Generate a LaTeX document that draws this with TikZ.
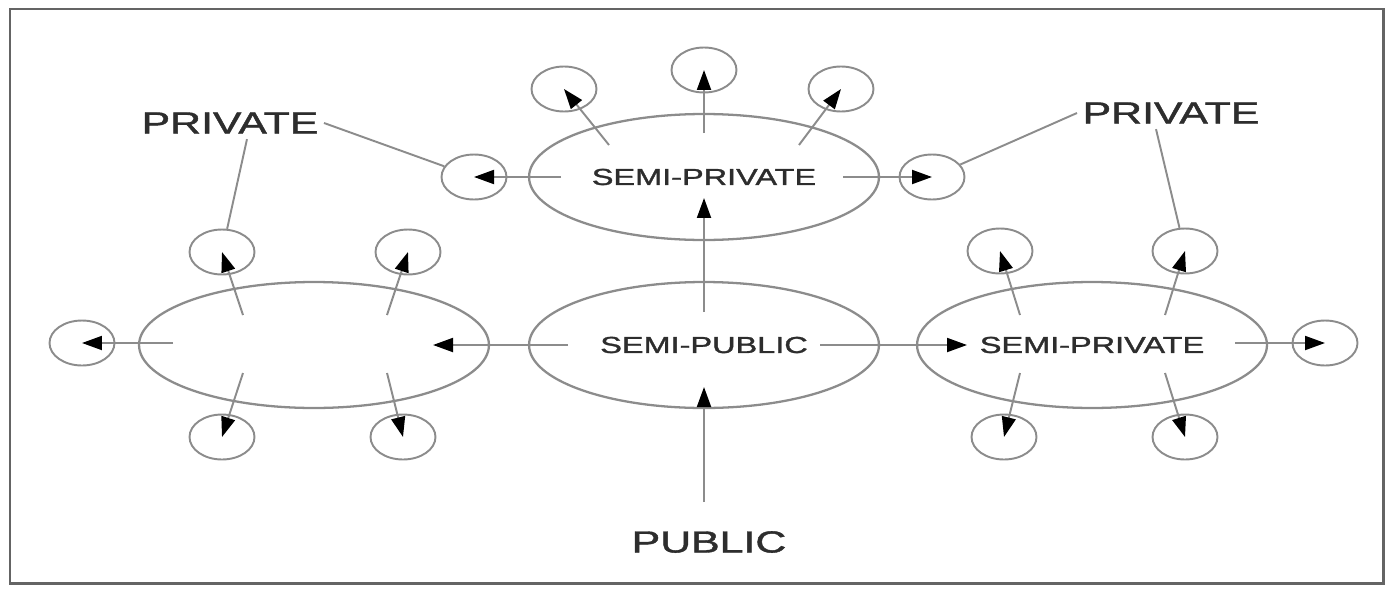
\documentclass[tikz,border=0pt]{standalone}
\usepackage{fontspec}
\setmainfont{Liberation Sans}
\newfontfamily\labelfont{Liberation Sans}[FakeBold=1.2]
\usetikzlibrary{shapes.geometric,arrows.meta}
\definecolor{linegray}{RGB}{140,140,140}
\definecolor{framegray}{RGB}{100,100,100}
\definecolor{textgray}{RGB}{45,45,45}
\newcommand{\widetxt}[1]{\scalebox{1.4}[1]{#1}}

\begin{document}
\begin{tikzpicture}[
    x=0.02cm, y=-0.02cm,
    zone/.style={ellipse, draw=linegray, line width=1.3pt, minimum width=7.0cm, minimum height=2.52cm, inner sep=0pt, text=textgray, font=\labelfont\fontsize{13.2}{15}\selectfont},
    room/.style={ellipse, draw=linegray, line width=1.1pt, minimum width=1.3cm, minimum height=0.9cm, inner sep=0pt},
    tag/.style={text=textgray, inner sep=3pt, font=\labelfont\fontsize{17.4}{20}\selectfont},
    arrow/.style={-{Triangle[length=0.4cm, width=0.28cm, color=black]}, draw=linegray, line width=1.1pt},
    lead/.style={draw=linegray, line width=1.1pt}
]
    \useasboundingbox (0,0) rectangle (1398,595);
    \draw[framegray, line width=1.7pt] (10,9) rectangle (1383,583);

    % Zones
    \node[zone] (sprivT) at (704,177) {\widetxt{SEMI-PRIVATE}};
    \node[zone] (spub) at (704,345) {\widetxt{SEMI-PUBLIC}};
    \node[zone] (lside) at (314,345) {};
    \node[zone] (sprivR) at (1092,345) {\widetxt{SEMI-PRIVATE}};

    % Rooms around the top zone
    \node[room] (t-nw) at (564,89) {};
    \node[room] (t-n) at (704,70) {};
    \node[room] (t-ne) at (841,89) {};
    \node[room] (t-w) at (474,177) {};
    \node[room] (t-e) at (932,177) {};

    % Rooms around the left zone
    \node[room] (l-nw) at (222,252) {};
    \node[room] (l-ne) at (408,252) {};
    \node[room] (l-w) at (82,343) {};
    \node[room] (l-sw) at (222,437) {};
    \node[room] (l-se) at (403,437) {};

    % Rooms around the right zone
    \node[room] (r-nw) at (1000,251) {};
    \node[room] (r-ne) at (1185,251) {};
    \node[room] (r-e) at (1325,343) {};
    \node[room] (r-sw) at (1004,437) {};
    \node[room] (r-se) at (1185,437) {};

    % Labels
    \node[tag] (privL) at (230,123) {\widetxt{PRIVATE}};
    \node[tag] (privR) at (1171,113) {\widetxt{PRIVATE}};
    \node[tag] (pub) at (709,542) {\widetxt{PUBLIC}};

    % Arrow ends inside the zones
    \coordinate (t-nw0) at (609,145);
    \coordinate (t-n0) at (704,133);
    \coordinate (t-ne0) at (799,145);
    \coordinate (t-w0) at (561,177);
    \coordinate (t-e0) at (843,177);
    \coordinate (m-n0) at (704,312);
    \coordinate (m-n1) at (704,198);
    \coordinate (m-w0) at (568,345);
    \coordinate (m-w1) at (433,345);
    \coordinate (m-e0) at (820,345);
    \coordinate (m-e1) at (967,345);
    \coordinate (pub0) at (704,502);
    \coordinate (pub1) at (704,387);
    \coordinate (l-nw0) at (243,315);
    \coordinate (l-ne0) at (387,315);
    \coordinate (l-w0) at (173,343);
    \coordinate (l-sw0) at (243,373);
    \coordinate (l-se0) at (387,373);
    \coordinate (r-nw0) at (1020,315);
    \coordinate (r-ne0) at (1165,315);
    \coordinate (r-e0) at (1235,343);
    \coordinate (r-sw0) at (1020,373);
    \coordinate (r-se0) at (1165,373);

    % Draw Arrows
    \draw[arrow] (pub0) -- (pub1);
    \draw[arrow] (m-n0) -- (m-n1);
    \draw[arrow] (m-w0) -- (m-w1);
    \draw[arrow] (m-e0) -- (m-e1);

    \draw[arrow] (t-nw0) -- (t-nw.center);
    \draw[arrow] (t-n0) -- (t-n.center);
    \draw[arrow] (t-ne0) -- (t-ne.center);
    \draw[arrow] (t-w0) -- (t-w.center);
    \draw[arrow] (t-e0) -- (t-e.center);

    \draw[arrow] (l-nw0) -- (l-nw.center);
    \draw[arrow] (l-ne0) -- (l-ne.center);
    \draw[arrow] (l-w0) -- (l-w.center);
    \draw[arrow] (l-sw0) -- (l-sw.center);
    \draw[arrow] (l-se0) -- (l-se.center);

    \draw[arrow] (r-nw0) -- (r-nw.center);
    \draw[arrow] (r-ne0) -- (r-ne.center);
    \draw[arrow] (r-e0) -- (r-e.center);
    \draw[arrow] (r-sw0) -- (r-sw.center);
    \draw[arrow] (r-se0) -- (r-se.center);

    % Leader lines
    \draw[lead] (privL.east) -- (t-w);
    \draw[lead] ([xshift=0.34cm]privL.south) -- (l-nw);
    \draw[lead] (privR.west) -- (t-e);
    \draw[lead] ([xshift=-0.3cm]privR.south) -- (r-ne);

\end{tikzpicture}
\end{document}
